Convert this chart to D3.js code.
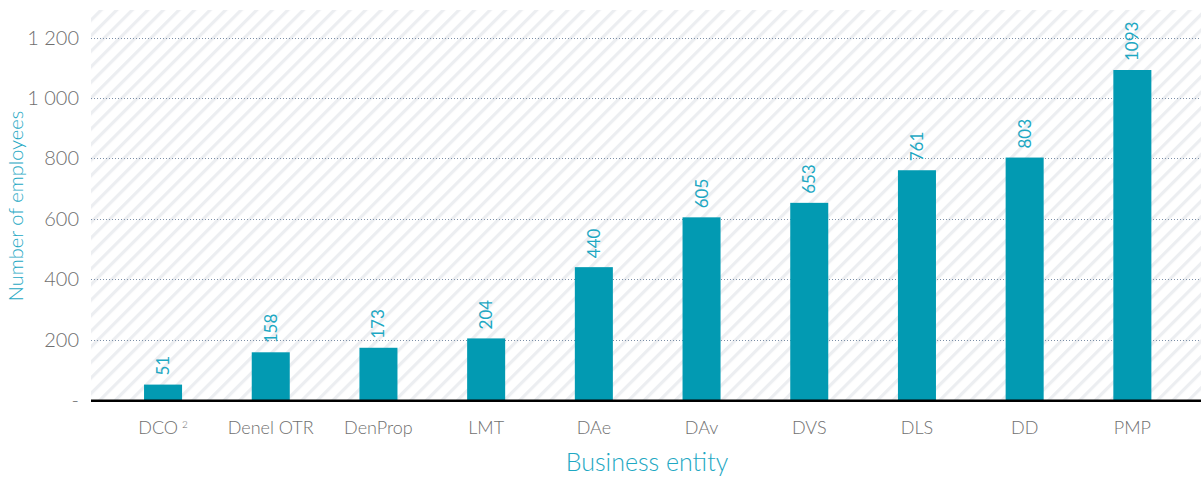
<!DOCTYPE html>
<html>
<head>
<meta charset="utf-8">
<script src="https://cdn.jsdelivr.net/npm/d3@7"></script>
<style>
  body { margin: 0; background: #fff; }
  svg { display: block; }
  svg text { font-family: Lato, "Open Sans", sans-serif; }
</style>
</head>
<body>
<div id="chart"></div>
<script>
var entities = ["DCO", "Denel OTR", "DenProp", "LMT", "DAe", "DAv", "DVS", "DLS", "DD", "PMP"];
var employees = [51, 158, 173, 204, 440, 605, 653, 761, 803, 1093];
var yTicks = [0, 200, 400, 600, 800, 1000, 1200];

var width = 1201, height = 477;
var plot = { left: 91, top: 10, right: 1201, bottom: 400 };

var svg = d3.select("#chart").append("svg")
    .attr("width", width)
    .attr("height", height);

// hatch pattern for the plot background
var pat = svg.append("defs").append("pattern")
    .attr("id", "hatch")
    .attr("patternUnits", "userSpaceOnUse")
    .attr("width", 11)
    .attr("height", 11)
    .attr("patternTransform", "rotate(45)");
pat.append("rect").attr("width", 11).attr("height", 11).attr("fill", "#fff");
pat.append("rect").attr("x", 0).attr("width", 3.2).attr("height", 11).attr("fill", "#eceef1");

svg.append("rect")
    .attr("x", plot.left)
    .attr("y", plot.top)
    .attr("width", plot.right - plot.left)
    .attr("height", plot.bottom - plot.top)
    .attr("fill", "url(#hatch)");

var x = d3.scaleBand()
    .domain(entities)
    .range([109.2, 1186.2])
    .paddingInner(0.647)
    .paddingOuter(0.3235);

var y = d3.scaleLinear()
    .domain([0, 1200])
    .range([400, 37.7]);

var fmt = d3.formatLocale({ decimal: ".", thousands: " ", grouping: [3], currency: ["", ""] }).format(",d");

// gridlines
svg.append("g")
    .selectAll("line")
    .data(yTicks.filter(function(d) { return d > 0; }))
    .enter().append("line")
    .attr("x1", plot.left)
    .attr("x2", plot.right)
    .attr("y1", function(d) { return Math.round(y(d)) + 0.5; })
    .attr("y2", function(d) { return Math.round(y(d)) + 0.5; })
    .attr("stroke", "#7d90a8")
    .attr("stroke-width", 1)
    .attr("stroke-dasharray", "1,2");

// y axis labels
var yAxis = svg.append("g")
    .attr("transform", "translate(" + plot.left + ",0)")
    .call(d3.axisLeft(y).tickValues(yTicks).tickSize(0).tickPadding(12)
        .tickFormat(function(d) { return d === 0 ? "-" : fmt(d); }));
yAxis.attr("font-family", null);
yAxis.select(".domain").remove();
yAxis.selectAll("text")
    .attr("fill", "#6f6f6f")
    .style("font-size", "20px")
    .style("font-weight", 300);

// bars
svg.append("g")
    .selectAll("rect")
    .data(employees)
    .enter().append("rect")
    .attr("x", function(d, i) { return x(entities[i]); })
    .attr("width", x.bandwidth())
    .attr("y", function(d) { return y(d); })
    .attr("height", function(d) { return y(0) - y(d); })
    .attr("fill", "#029ab2");

// value labels
svg.append("g")
    .selectAll("text")
    .data(employees)
    .enter().append("text")
    .attr("transform", function(d, i) {
        return "translate(" + (x(entities[i]) + x.bandwidth() / 2 + 6) + "," + (y(d) - 9) + ") rotate(-90)";
    })
    .attr("fill", "#1ea8c3")
    .style("font-size", "17px")
    .text(function(d) { return d; });

// baseline
svg.append("line")
    .attr("x1", plot.left)
    .attr("x2", plot.right)
    .attr("y1", 400.8)
    .attr("y2", 400.8)
    .attr("stroke", "#000")
    .attr("stroke-width", 2.6);

// x axis labels
var xAxis = svg.append("g")
    .attr("transform", "translate(0," + 402 + ")")
    .call(d3.axisBottom(x).tickSize(0).tickPadding(19));
xAxis.attr("font-family", null);
xAxis.select(".domain").remove();
xAxis.selectAll("text")
    .attr("fill", "#6f6f6f")
    .style("font-size", "18px")
    .style("font-weight", 300);
xAxis.selectAll(".tick").filter(function(d) { return d === "DCO"; })
    .select("text")
    .append("tspan")
    .attr("dx", 4)
    .attr("dy", -6)
    .style("font-size", "10px")
    .text("2");

// axis titles
svg.append("text")
    .attr("transform", "translate(23,206) rotate(-90)")
    .attr("text-anchor", "middle")
    .attr("fill", "#1ea8c3")
    .style("font-size", "20px")
    .style("font-weight", 300)
    .text("Number of employees");

svg.append("text")
    .attr("x", 647)
    .attr("y", 471)
    .attr("text-anchor", "middle")
    .attr("fill", "#1ea8c3")
    .style("font-size", "25px")
    .style("font-weight", 300)
    .text("Business entity");
</script>
</body>
</html>
